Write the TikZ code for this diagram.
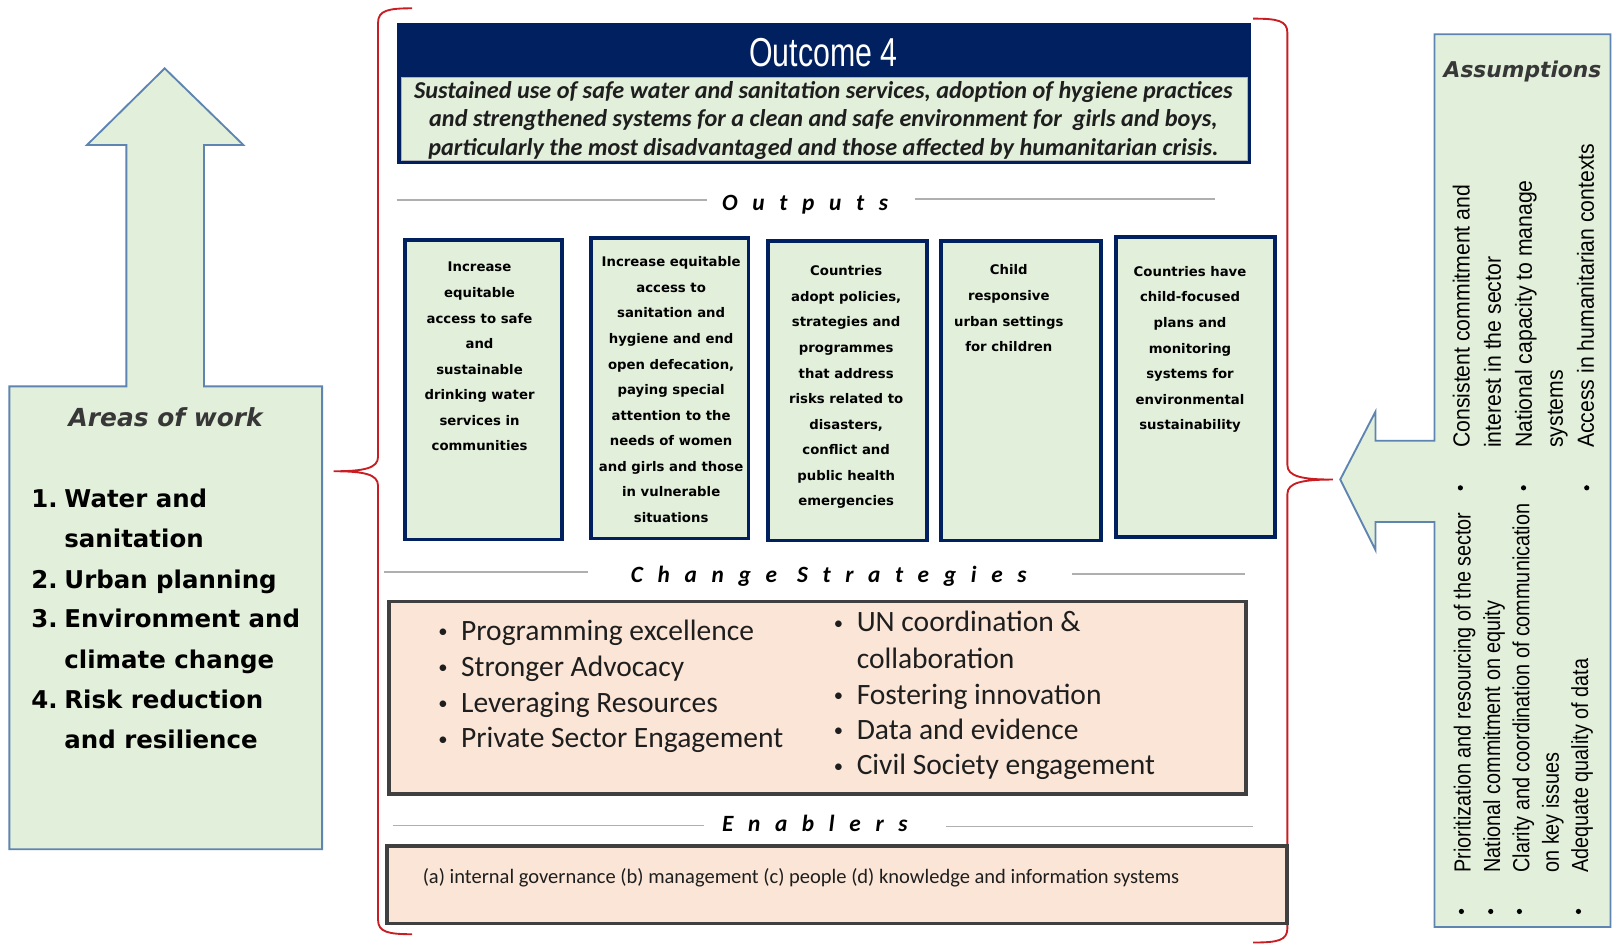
\documentclass[tikz,border=0pt]{standalone}
\usepackage{fontspec}
\setmainfont{Carlito}
\newfontfamily\dejavu{DejaVu Sans}
\newfontfamily\outcomefont[FakeStretch=0.75]{Liberation Sans}
\newfontfamily\headfont[LetterSpace=63]{Carlito}
\newfontfamily\assumAfont[FakeStretch=0.91]{Liberation Sans}
\newfontfamily\assumBfont[FakeStretch=0.85]{Liberation Sans}
\definecolor{navy}{RGB}{0,32,96}
\definecolor{lgreen}{RGB}{226,239,218}
\definecolor{peach}{RGB}{251,229,214}
\definecolor{dgray}{RGB}{64,64,64}
\definecolor{abl}{RGB}{94,133,178}
\definecolor{bred}{RGB}{200,30,35}
\definecolor{hline}{RGB}{175,175,175}
\definecolor{txt}{RGB}{30,30,30}
\definecolor{htxt}{RGB}{55,55,55}
\newcommand{\csbul}{\makebox[22pt][l]{\raisebox{2.5pt}{\fontsize{18}{18}\selectfont\textbullet}}}
\begin{document}
\begin{tikzpicture}[x=1pt,y=-1pt,
  arrowshape/.style={draw=abl, line width=1.8pt, fill=lgreen, line join=miter},
  bracket/.style={draw=bred, line width=1.8pt},
  hrule/.style={draw=hline, line width=1.6pt},
  head/.style={font=\headfont\bfseries\itshape\fontsize{22.5}{27}\selectfont, anchor=base west, inner sep=0pt},
  outbox/.style={draw=navy, line width=3.5pt, fill=lgreen, anchor=north west, inner sep=0pt},
  otxt/.style={font=\dejavu\bfseries\fontsize{12.8}{24.7}\selectfont, align=center, anchor=base, inner sep=0pt},
  csbox/.style={draw=dgray, line width=3.5pt, fill=peach, anchor=north west, inner sep=0pt},
  cstxt/.style={font=\fontsize{28.5}{34.6}\selectfont, text=txt, anchor=base west, inner sep=0pt},
  areatxt/.style={font=\dejavu\bfseries\fontsize{23.6}{39}\selectfont, text=black, anchor=base west, inner sep=0pt},
  asmA/.style={font=\assumAfont\fontsize{22.5}{30}\selectfont, rotate=90, anchor=base west, inner sep=0pt},
  asmB/.style={font=\assumBfont\fontsize{22.5}{28}\selectfont, rotate=90, anchor=base west, inner sep=0pt},
  dot/.style={fill=black}
]
\useasboundingbox[fill=white] (0,0) rectangle (1568,914);

% ---------- Areas of work arrow ----------
\draw[arrowshape] (9,373) -- (122,373) -- (122,140) -- (84,140) -- (159,66) -- (235,140)
  -- (197,140) -- (197,373) -- (311,373) -- (311,820) -- (9,820) -- cycle;
\node[font=\dejavu\bfseries\itshape\fontsize{24}{28}\selectfont, text=htxt, anchor=base, inner sep=0pt] (areas) at (160,412) {Areas of work};
\node[areatxt] (a1) at (30,490) {\makebox[32pt][l]{1.}Water and};
\node[areatxt] (a1b) at (62,529) {sanitation};
\node[areatxt] (a2) at (30,568) {\makebox[32pt][l]{2.}Urban planning};
\node[areatxt] (a3) at (30,606) {\makebox[32pt][l]{3.}Environment and};
\node[areatxt] (a3b) at (62,645) {climate change};
\node[areatxt] (a4) at (30,684) {\makebox[32pt][l]{4.}Risk reduction};
\node[areatxt] (a4b) at (62,723) {and resilience};

% ---------- Brackets ----------
\draw[bracket] (398,8) .. controls (375,8) and (365,10) .. (365,22) -- (365,441)
  .. controls (365,452) and (352,455) .. (322,455)
  .. controls (352,455) and (365,458) .. (365,469) -- (365,888)
  .. controls (365,900) and (375,902) .. (398,902);
\draw[bracket] (1210,18) .. controls (1234,18) and (1243,20) .. (1243,32) -- (1243,449)
  .. controls (1243,460) and (1257,463) .. (1287,463)
  .. controls (1257,463) and (1243,466) .. (1243,477) -- (1243,896)
  .. controls (1243,908) and (1234,910) .. (1210,910);

% ---------- Outcome ----------
\fill[navy] (383,22) rectangle (1208,158);
\draw[fill=lgreen, draw=gray!60, line width=0.6pt] (387,75) rectangle (1204,155);
\node[font=\outcomefont\fontsize{39}{44}\selectfont, text=white, anchor=base, inner sep=0pt] (outc) at (795,64) {Outcome 4};
\node[font=\bfseries\itshape\fontsize{23.4}{27.5}\selectfont, text=txt, align=center, anchor=base, inner sep=0pt] (outcd) at (795,150)
  {Sustained use of safe water and sanitation services, adoption of hygiene practices\\
   and strengthened systems for a clean and safe environment for \ girls and boys,\\
   particularly the most disadvantaged and those affected by humanitarian crisis.};

% ---------- Outputs ----------
\draw[hrule] (383,193) -- (683,193);
\draw[hrule] (883,192) -- (1173,192);
\node[head] (hout) at (697,203) {Outputs};

\node[outbox, minimum width=152pt, minimum height=289pt] (o1) at (389,230) {};
\node[outbox, minimum width=152pt, minimum height=290pt] (o2) at (569,228) {};
\node[outbox, minimum width=153pt, minimum height=289pt] (o3) at (740,231) {};
\node[outbox, minimum width=154pt, minimum height=289pt] (o4) at (907,231) {};
\node[outbox, minimum width=153pt, minimum height=290pt] (o5) at (1076,227) {};

\node[otxt] (t1) at (463,435.4) {Increase\\equitable\\access to safe\\and\\sustainable\\drinking water\\services in\\communities};
\node[otxt] (t2) at (648,504.5) {Increase equitable\\access to\\sanitation and\\hygiene and end\\open defecation,\\paying special\\attention to the\\needs of women\\and girls and those\\in vulnerable\\situations};
\node[otxt] (t3) at (817,488.5) {Countries\\adopt policies,\\strategies and\\programmes\\that address\\risks related to\\disasters,\\conflict and\\public health\\emergencies};
\node[otxt] (t4) at (974,339.6) {Child\\responsive\\urban settings\\for children};
\node[otxt] (t5) at (1149,415) {Countries have\\child-focused\\plans and\\monitoring\\systems for\\environmental\\sustainability};

% ---------- Change Strategies ----------
\draw[hrule] (371,552) -- (568,552);
\draw[hrule] (1035,554) -- (1202,554);
\node[head] (hcs) at (609,562) {Change Strategies};
\node[csbox, minimum width=827pt, minimum height=186pt] (cs) at (374,579) {};
\node[cstxt] (c1) at (423,618) {\csbul Programming excellence};
\node[cstxt] (c2) at (423,653) {\csbul Stronger Advocacy};
\node[cstxt] (c3) at (423,688) {\csbul Leveraging Resources};
\node[cstxt] (c4) at (423,722) {\csbul Private Sector Engagement};
\node[cstxt] (c5) at (805,610) {\csbul UN coordination \&};
\node[cstxt] (c5b) at (827,645) {collaboration};
\node[cstxt] (c6) at (805,680) {\csbul Fostering innovation};
\node[cstxt] (c7) at (805,714) {\csbul Data and evidence};
\node[cstxt] (c8) at (805,748) {\csbul Civil Society engagement};

% ---------- Enablers ----------
\draw[hrule] (379,797) -- (680,797);
\draw[hrule] (913,798) -- (1210,798);
\node[head] (hen) at (697,803) {Enablers};
\node[csbox, minimum width=869pt, minimum height=75pt] (en) at (372,815) {};
\node[font=\fontsize{19.8}{24}\selectfont, text=txt, anchor=base west, inner sep=0pt] (ent) at (408,853.5)
  {(a) internal governance (b) management (c) people (d) knowledge and information systems};

% ---------- Assumptions ----------
\draw[arrowshape] (1385,33) -- (1555,33) -- (1555,895) -- (1385,895) -- (1385,504)
  -- (1328,504) -- (1328,531) -- (1294,463) -- (1328,397.5) -- (1328,425.5) -- (1385,425.5) -- cycle;
\node[font=\dejavu\bfseries\itshape\fontsize{21}{25}\selectfont, text=htxt, anchor=base, inner sep=0pt] (asm) at (1470,75) {Assumptions};

\node[asmA] (s1) at (1419,432.5) {Consistent commitment and};
\node[asmA] (s1b) at (1449,432.5) {interest in the sector};
\node[asmA] (s2) at (1479,432.5) {National capacity to manage};
\node[asmA] (s2b) at (1509,432.5) {systems};
\node[asmA] (s3) at (1539,432.5) {Access in humanitarian contexts};
\fill[dot] (1410,471) circle (2.5) (1471,471) circle (2.5) (1532,471) circle (2.5);

\node[asmB] (r1) at (1420,842.6) {Prioritization and resourcing of the sector};
\node[asmB] (r2) at (1448.3,842.6) {National commitment on equity};
\node[asmB] (r3) at (1476.6,842.6) {Clarity and coordination of communication};
\node[asmB] (r3b) at (1505,842.6) {on key issues};
\node[asmB] (r4) at (1533.3,842.6) {Adequate quality of data};
\fill[dot] (1411,880) circle (2.5) (1439.3,880) circle (2.5) (1467,880) circle (2.5) (1524,880) circle (2.5);
\end{tikzpicture}
\end{document}
